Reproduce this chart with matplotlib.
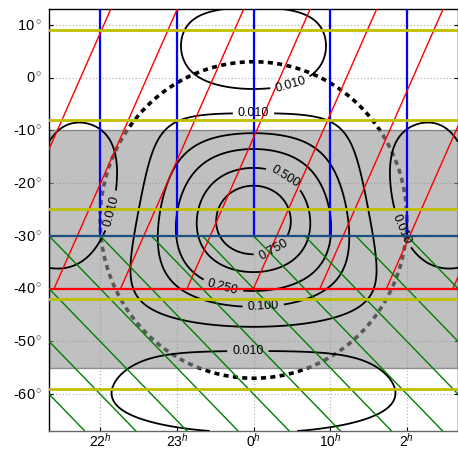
import numpy as np
import matplotlib
matplotlib.use('Agg')
import matplotlib.pyplot as plt

plt.rcParams['font.family'] = 'Liberation Sans'
plt.rcParams['mathtext.fontset'] = 'custom'
plt.rcParams['mathtext.rm'] = 'Liberation Sans'
plt.rcParams['mathtext.it'] = 'Liberation Sans:italic'

# axis ticks (RA in degrees, Dec in degrees)
ra_ticks = [-30, -15, 0, 15, 30]
ra_labels = [r'22$^h$', r'23$^h$', r'0$^h$', r'10$^h$', r'2$^h$']
dec_ticks = [-60, -50, -40, -30, -20, -10, 0, 10]
dec_labels = ['%d$^\\circ$' % d for d in dec_ticks]

# beam pattern
beam_ra, beam_dec = 0.0, -27.0
beam_width = 22.3
levels = [0.01, 0.1, 0.25, 0.5, 0.75]
label_pos = [(7, -0.4), (0, -6.3), (6, -19), (3.8, -32.4), (-5.8, -39),
             (1.9, -43.1), (-1.1, -51.7), (-28.3, -25.1), (29.5, -28.5)]

# dashed circle
circ_ra, circ_dec, circ_r = 0.0, -27.0, 30.0

# shaded dec band
band = (-55, -10)

# lines
blue_ras = [-30, -15, 0, 15, 30]
blue_bottom = -30
navy_dec = -30
red_dec = -40
red_starts = [-52, -39, -26, -13, 0, 13, 26, 39]
red_slope = 2.2
green_starts = [-70, -60, -50, -40, -30, -20, -10, 0, 10, 20, 30, 40]
green_slope = -1.0
yellow_decs = [9, -8, -25, -42, -59]

fig = plt.figure(figsize=(4.58, 4.49), dpi=100)
ax = fig.add_axes([49/458, 18/449, 409/458, 422/449])

# beam on the sphere, square-aperture response
ra = np.linspace(-40, 40, 401)
dec = np.linspace(-67, 13, 401)
R, D = np.meshgrid(np.radians(ra), np.radians(dec))
d0 = np.radians(beam_dec)
ue = np.cos(D) * np.sin(R - np.radians(beam_ra))
un = -np.sin(d0) * np.cos(D) * np.cos(R) + np.cos(d0) * np.sin(D)
a = np.degrees(np.arcsin(ue))
b = np.degrees(np.arcsin(un))
Z = np.sinc(a / beam_width)**2 * np.sinc(b / beam_width)**2

ax.grid(True, linestyle=':', color='0.72', linewidth=0.9)
ax.set_axisbelow(True)

t = np.linspace(0, 2*np.pi, 500)
ax.plot(circ_ra + circ_r*np.cos(t), circ_dec + circ_r*np.sin(t), color='k',
        lw=2.6, linestyle=(0, (1.4, 1.2)), zorder=1.5)

ax.axhspan(band[0], band[1], facecolor='0.59', alpha=0.6, edgecolor='0.35',
           lw=1, zorder=2)

cs = ax.contour(ra, dec, Z, levels=levels, colors='k', linewidths=1.3, zorder=3)
ax.clabel(cs, fmt='%.3f', fontsize=9, inline=True, manual=label_pos)

for x in blue_ras:
    ax.plot([x, x], [blue_bottom, 20], color='b', lw=1.6, zorder=4)
for x0 in red_starts:
    ax.plot([x0, x0 + 60/red_slope], [red_dec, red_dec + 60], color='r', lw=1.0, zorder=4)
for x0 in green_starts:
    ax.plot([x0, x0 + 50], [navy_dec, navy_dec + 50*green_slope], color='g', lw=1.0, zorder=4)
ax.axhline(navy_dec, color='#1c4e80', lw=1.6, zorder=5)
ax.axhline(red_dec, color='r', lw=1.6, zorder=5)
for y in yellow_decs:
    ax.axhline(y, color='y', lw=2.0, zorder=6)

ax.set_xlim(-40, 40)
ax.set_ylim(-67, 13)
ax.set_xticks(ra_ticks)
ax.set_xticklabels(ra_labels)
ax.set_yticks(dec_ticks)
ax.set_yticklabels(dec_labels)
ax.tick_params(direction='in', length=3, top=True, right=True, labelsize=10.5)
ax.tick_params(axis='x', pad=0.5, labelsize=10)
ax.tick_params(axis='y', pad=5)
for s in ax.spines.values():
    s.set_linewidth(1.0)
ax.spines['bottom'].set_color('0.4')

fig.savefig('out.png', dpi=100)
